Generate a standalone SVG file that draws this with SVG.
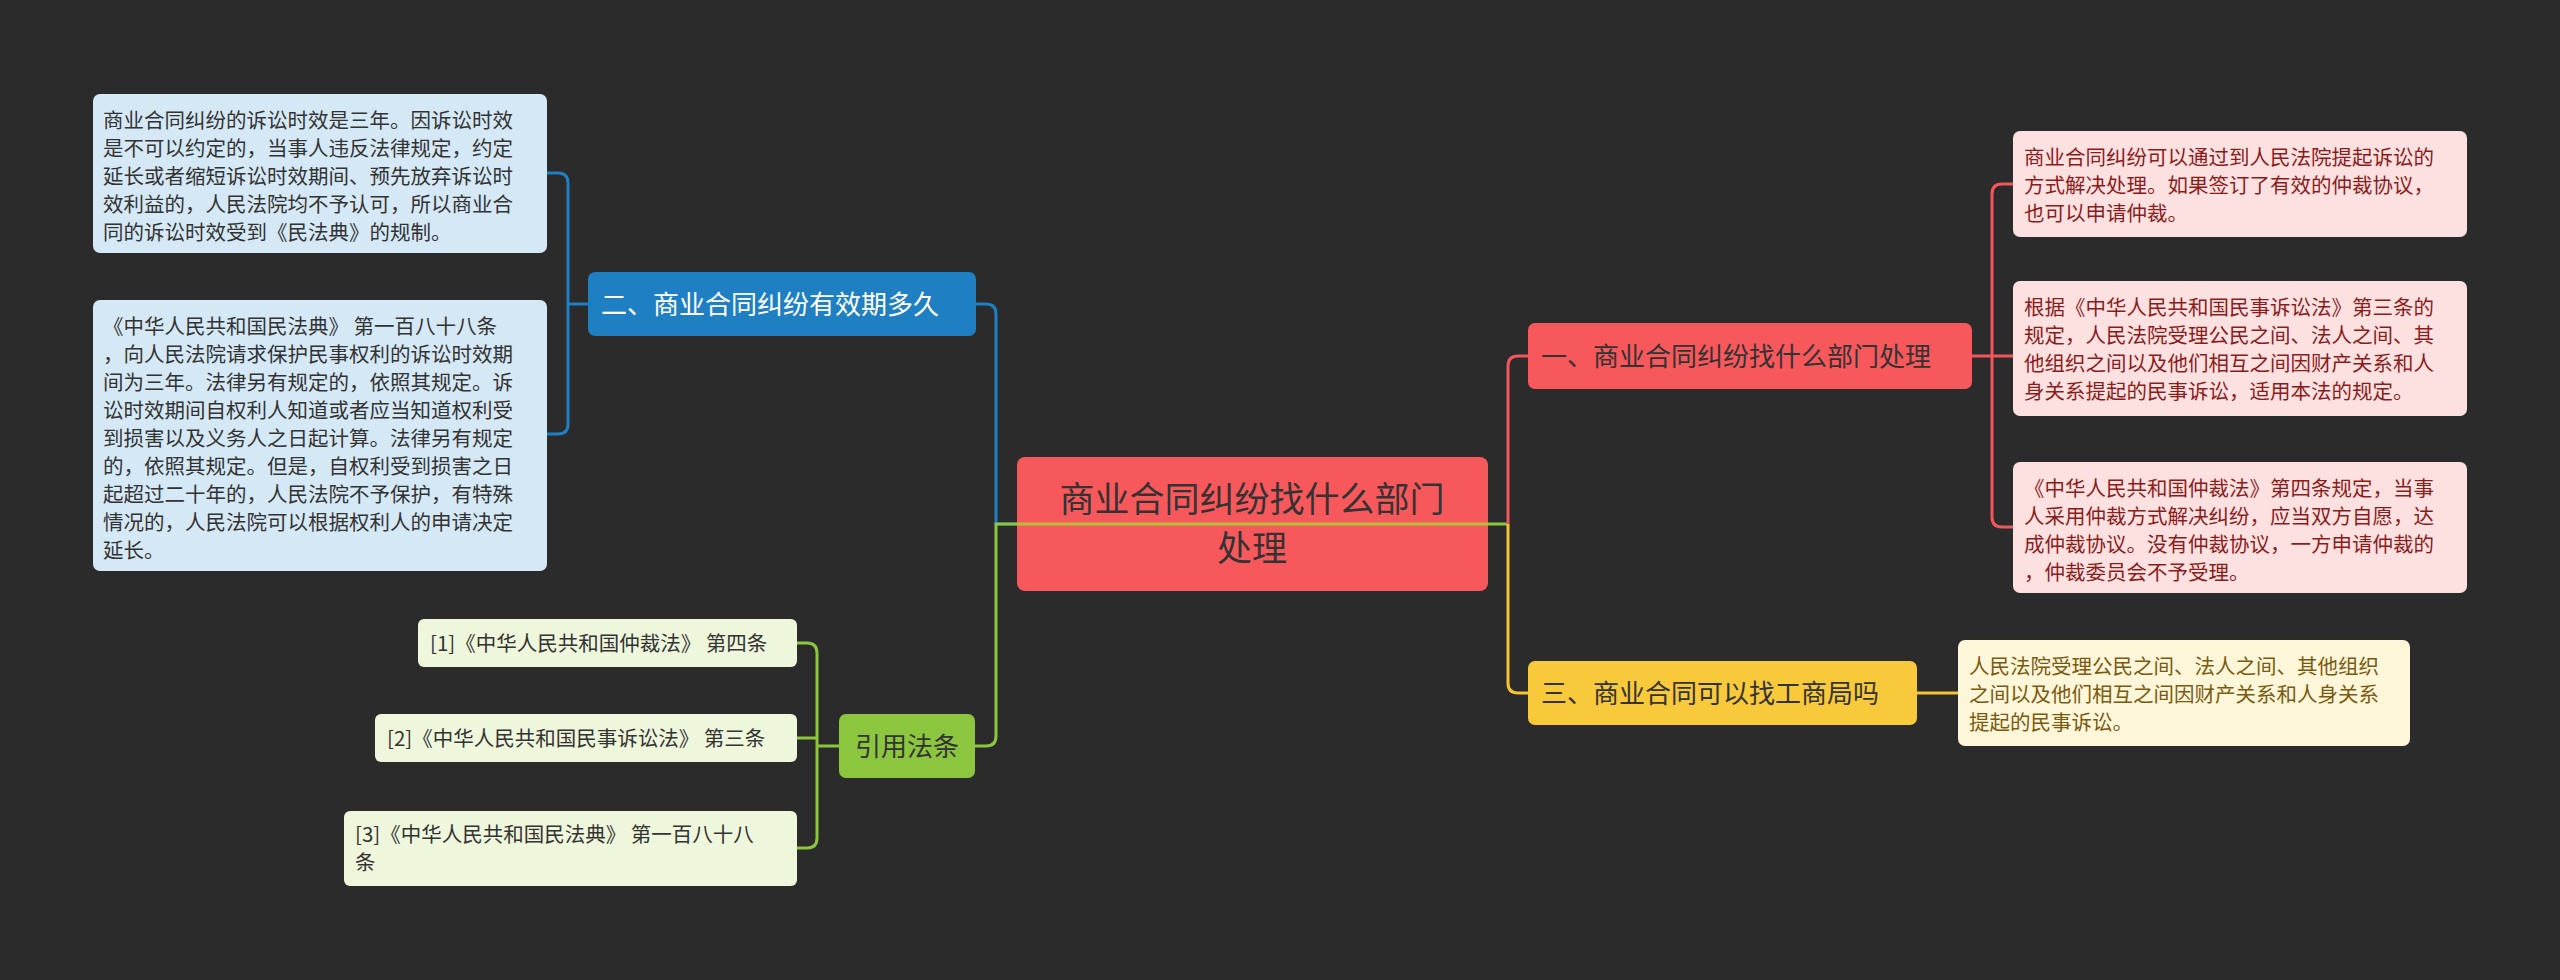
<svg xmlns="http://www.w3.org/2000/svg" width="2560" height="980" viewBox="0 0 2560 980">
<style>
text{font-family:"Noto Sans CJK SC","Liberation Sans",sans-serif}
.leaf{font-size:20.5px}
.br{font-size:26px}
.c{fill:none;stroke-width:3}
</style>
<rect width="2560" height="980" fill="#2b2b2b"/>
<g id="connectors">
<path class="c" stroke="#1f7fc3" d="M1017,524 H996 V314 Q996,304 986,304 H976"/>
<path class="c" stroke="#8cc63f" d="M1508,524 H996 V736 Q996,746 986,746 H975"/>
<path class="c" stroke="#f0565c" d="M1508,524 V366 Q1508,356 1518,356 H1528"/>
<path class="c" stroke="#f5c333" d="M1508,524 V683 Q1508,693 1518,693 H1528"/>
<path class="c" stroke="#1f7fc3" d="M588,304 H568 M568,304 V183 Q568,173 558,173 H547 M568,304 V424 Q568,434 558,434 H547"/>
<path class="c" stroke="#8cc63f" d="M839,746 H817 M817,746 V653 Q817,643 807,643 H797 M817,746 V738 H797 M817,746 V838 Q817,848 807,848 H797"/>
<path class="c" stroke="#f0565c" d="M1972,356 H1992 M1992,356 V194 Q1992,184 2002,184 H2013 M1992,356 H2013 M1992,356 V517 Q1992,527 2002,527 H2013"/>
<path class="c" stroke="#f5c333" d="M1917,693 H1958"/>
</g>
<g id="center">
<rect x="1017" y="457" width="471" height="134" rx="8" fill="#f7585c"/>
<text x="1252" y="512" font-size="35" fill="#333" text-anchor="middle">商业合同纠纷找什么部门</text>
<text x="1252" y="561" font-size="35" fill="#333" text-anchor="middle">处理</text>
</g>
<g id="n2">
<rect x="588" y="272" width="388" height="64" rx="7" fill="#1f7fc3"/>
<text x="601" y="314" class="br" fill="#fff">二、商业合同纠纷有效期多久</text>
</g>
<g id="n2a">
<rect x="93" y="94" width="454" height="159" rx="7" fill="#d5e8f5"/>
<text class="leaf" fill="#333"><tspan x="103" y="128">商业合同纠纷的诉讼时效是三年。因诉讼时效</tspan><tspan x="103" y="156">是不可以约定的，当事人违反法律规定，约定</tspan><tspan x="103" y="184">延长或者缩短诉讼时效期间、预先放弃诉讼时</tspan><tspan x="103" y="212">效利益的，人民法院均不予认可，所以商业合</tspan><tspan x="103" y="240">同的诉讼时效受到《民法典》的规制。</tspan></text>
</g>
<g id="n2b">
<rect x="93" y="300" width="454" height="271" rx="7" fill="#d5e8f5"/>
<text class="leaf" fill="#333"><tspan x="103" y="334">《中华人民共和国民法典》 第一百八十八条</tspan><tspan x="103" y="362">，向人民法院请求保护民事权利的诉讼时效期</tspan><tspan x="103" y="390">间为三年。法律另有规定的，依照其规定。诉</tspan><tspan x="103" y="418">讼时效期间自权利人知道或者应当知道权利受</tspan><tspan x="103" y="446">到损害以及义务人之日起计算。法律另有规定</tspan><tspan x="103" y="474">的，依照其规定。但是，自权利受到损害之日</tspan><tspan x="103" y="502">起超过二十年的，人民法院不予保护，有特殊</tspan><tspan x="103" y="530">情况的，人民法院可以根据权利人的申请决定</tspan><tspan x="103" y="558">延长。</tspan></text>
</g>
<g id="refs">
<rect x="839" y="714" width="136" height="64" rx="7" fill="#8cc63f"/>
<text x="907" y="756" class="br" fill="#333" text-anchor="middle">引用法条</text>
</g>
<g id="ref1">
<rect x="418" y="619" width="379" height="48" rx="6" fill="#eef6dc"/>
<text x="430" y="651" class="leaf" fill="#333">[1]《中华人民共和国仲裁法》 第四条</text>
</g>
<g id="ref2">
<rect x="375" y="714" width="422" height="48" rx="6" fill="#eef6dc"/>
<text x="387" y="746" class="leaf" fill="#333">[2]《中华人民共和国民事诉讼法》 第三条</text>
</g>
<g id="ref3">
<rect x="344" y="811" width="453" height="75" rx="6" fill="#eef6dc"/>
<text class="leaf" fill="#333"><tspan x="355" y="842">[3]《中华人民共和国民法典》 第一百八十八</tspan><tspan x="355" y="870">条</tspan></text>
</g>
<g id="n1">
<rect x="1528" y="323" width="444" height="66" rx="7" fill="#f7585c"/>
<text x="1541" y="366" class="br" fill="#333">一、商业合同纠纷找什么部门处理</text>
</g>
<g id="n1a">
<rect x="2013" y="131" width="454" height="106" rx="7" fill="#fde1e1"/>
<text class="leaf" fill="#8b1c1c"><tspan x="2024" y="165">商业合同纠纷可以通过到人民法院提起诉讼的</tspan><tspan x="2024" y="193">方式解决处理。如果签订了有效的仲裁协议，</tspan><tspan x="2024" y="221">也可以申请仲裁。</tspan></text>
</g>
<g id="n1b">
<rect x="2013" y="281" width="454" height="135" rx="7" fill="#fde1e1"/>
<text class="leaf" fill="#8b1c1c"><tspan x="2024" y="315">根据《中华人民共和国民事诉讼法》第三条的</tspan><tspan x="2024" y="343">规定，人民法院受理公民之间、法人之间、其</tspan><tspan x="2024" y="371">他组织之间以及他们相互之间因财产关系和人</tspan><tspan x="2024" y="399">身关系提起的民事诉讼，适用本法的规定。</tspan></text>
</g>
<g id="n1c">
<rect x="2013" y="462" width="454" height="131" rx="7" fill="#fde1e1"/>
<text class="leaf" fill="#8b1c1c"><tspan x="2024" y="496">《中华人民共和国仲裁法》第四条规定，当事</tspan><tspan x="2024" y="524">人采用仲裁方式解决纠纷，应当双方自愿，达</tspan><tspan x="2024" y="552">成仲裁协议。没有仲裁协议，一方申请仲裁的</tspan><tspan x="2024" y="580">，仲裁委员会不予受理。</tspan></text>
</g>
<g id="n3">
<rect x="1528" y="661" width="389" height="64" rx="7" fill="#f8c93a"/>
<text x="1541" y="703" class="br" fill="#333">三、商业合同可以找工商局吗</text>
</g>
<g id="n3a">
<rect x="1958" y="640" width="452" height="106" rx="7" fill="#fdf6d8"/>
<text class="leaf" fill="#7a5a10"><tspan x="1969" y="674">人民法院受理公民之间、法人之间、其他组织</tspan><tspan x="1969" y="702">之间以及他们相互之间因财产关系和人身关系</tspan><tspan x="1969" y="730">提起的民事诉讼。</tspan></text>
</g>
<path d="M1508,524 H1488 M1017,524 H1030" stroke="#8cc63f" stroke-width="3" fill="none" opacity="0"/>
<path d="M1017,524 H1488" stroke="#b8c03a" stroke-width="3" fill="none"/>
</svg>
